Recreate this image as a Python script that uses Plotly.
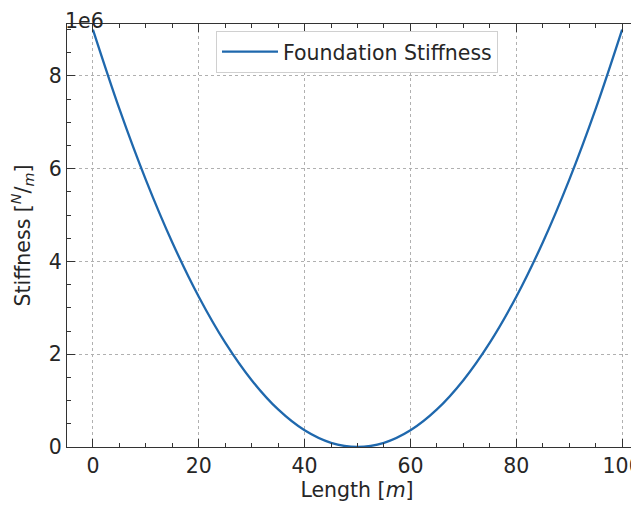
import plotly.graph_objects as go

# foundation stiffness along the beam (values in N/m)
length = [0, 5, 10, 15, 20, 25, 30, 35, 40, 45, 50,
          55, 60, 65, 70, 75, 80, 85, 90, 95, 100]
stiffness = [9.0e6, 7.29e6, 5.76e6, 4.41e6, 3.24e6, 2.25e6, 1.44e6, 0.81e6, 0.36e6, 0.09e6, 0.0,
             0.09e6, 0.36e6, 0.81e6, 1.44e6, 2.25e6, 3.24e6, 4.41e6, 5.76e6, 7.29e6, 9.0e6]

x_ticks = [0, 20, 40, 60, 80, 100]
y_ticks = [0, 2e6, 4e6, 6e6, 8e6]
y_tick_labels = ['0', '2', '4', '6', '8']

font = dict(family='DejaVu Sans', size=20.5, color='#262626')

fig = go.Figure()
fig.add_trace(go.Scatter(x=length, y=stiffness, mode='lines', line_shape='spline',
                         line=dict(color='#1f68ad', width=2.3),
                         name='Foundation Stiffness'))

axis_common = dict(showline=True, linecolor='#333333', linewidth=1.3,
                   ticks='inside', ticklen=8, tickwidth=1.2, tickcolor='#333333',
                   showgrid=True, gridcolor='#b0b0b0', griddash='dot', gridwidth=0.8,
                   zeroline=False, tickfont=font, automargin=False)

fig.update_xaxes(range=[-4.9, 104.7], tickvals=x_ticks, mirror='ticks',
                 minor=dict(ticks='inside', ticklen=4, tickwidth=1, tickcolor='#333333',
                            dtick=5, tick0=0, showgrid=False),
                 title=dict(text='Length [<i>m</i>]', font=font, standoff=1),
                 **axis_common)
fig.update_yaxes(range=[0, 9.12e6], tickvals=y_ticks, ticktext=y_tick_labels,
                 minor=dict(ticks='inside', ticklen=4, tickwidth=1, tickcolor='#333333',
                            dtick=5e5, tick0=0, showgrid=False),
                 title=dict(text='Stiffness [<sup><i>N</i></sup>/<sub><i>m</i></sub>]',
                            font=font, standoff=14),
                 **axis_common)

# offset text for the y axis, pushed up against the top of the figure
fig.add_annotation(text='1e6', xref='paper', yref='paper', x=0, y=1,
                   xanchor='left', yanchor='top', showarrow=False, font=font,
                   xshift=-4, yshift=17)

# page body adds an 8px offset, so margins are shifted to land the axes where the reference has them
fig.update_layout(width=639, height=506, plot_bgcolor='white', paper_bgcolor='white',
                  margin=dict(l=59, r=0, t=16, b=67),
                  legend=dict(x=0.5, y=0.984, xanchor='center', yanchor='top',
                              bgcolor='white', bordercolor='#d0d0d0', borderwidth=1,
                              itemwidth=56, font=font),
                  showlegend=True)

fig.write_html('out.html')
